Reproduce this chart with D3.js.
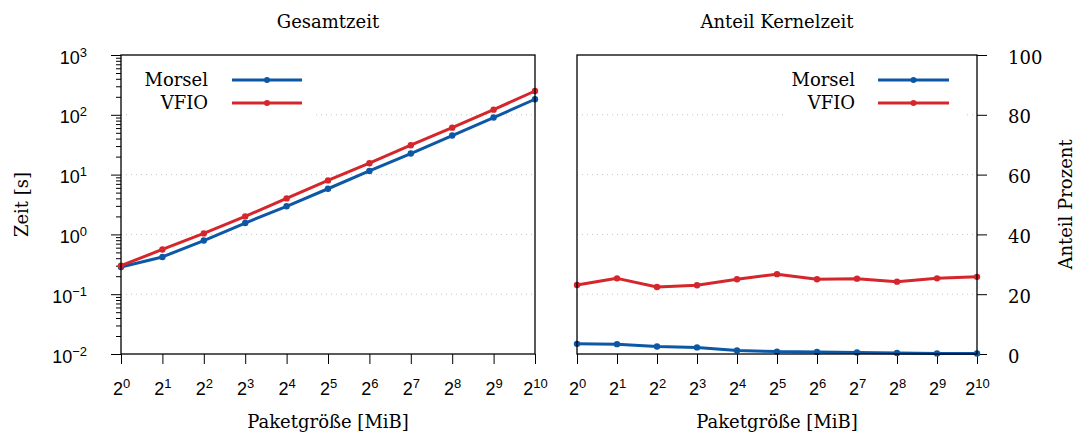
<!DOCTYPE html>
<html>
<head>
<meta charset="utf-8">
<script src="https://cdn.jsdelivr.net/npm/d3@7"></script>
<style>
  body { margin: 0; background: #fff; }
  svg { font-family: 'DejaVu Serif', serif; }
</style>
</head>
<body>
<div id="app"></div>
<script>
'use strict'

// exponents of the package size (2^n MiB)
const exponents = [0, 1, 2, 3, 4, 5, 6, 7, 8, 9, 10]
const seriesNames = ['Morsel', 'VFIO']

// total time in seconds
const morselTime = [0.285, 0.42, 0.79, 1.55, 2.95, 5.8, 11.5, 22.5, 45, 90, 182]
const vfioTime = [0.30, 0.56, 1.04, 2.0, 4.0, 8.0, 15.5, 31, 61, 122, 250]

// kernel share in percent
const morselKernel = [3.4, 3.3, 2.5, 2.2, 1.2, 0.8, 0.7, 0.5, 0.35, 0.2, 0.15]
const vfioKernel = [23.1, 25.3, 22.4, 23.0, 25.0, 26.7, 25.0, 25.2, 24.2, 25.3, 25.8]

const logTicks = [-2, -1, 0, 1, 2, 3]
const pctTicks = [0, 20, 40, 60, 80, 100]

const colors = { Morsel: '#0c58a6', VFIO: '#d5262b' }

const setWidth = 1075
const setHeight = 434
const fontSize = 18
const tickFont = 18
const supFont = 13

const panelLeft = { x0: 121, x1: 535, y0: 55, y1: 354 }
const panelRight = { x0: 577, x1: 977, y0: 55, y1: 354 }

const svg = d3.select('#app')
  .append('svg')
  .attr('width', setWidth)
  .attr('height', setHeight)

const scaleXLeft = d3.scaleLinear()
  .domain([0, 10])
  .range([panelLeft.x0, panelLeft.x1])

const scaleXRight = d3.scaleLinear()
  .domain([0, 10])
  .range([panelRight.x0, panelRight.x1])

const scaleYLog = d3.scaleLog()
  .domain([1e-2, 1e3])
  .range([panelLeft.y1, panelLeft.y0])

const scaleYPct = d3.scaleLinear()
  .domain([0, 100])
  .range([panelRight.y1, panelRight.y0])

// base with superscript, e.g. 2^5 or 10^-1
const powerLabel = (sel, base, exp) => {
  sel.append('tspan').text(base)
  sel.append('tspan')
    .attr('dy', -7)
    .attr('font-size', supFont)
    .text(exp < 0 ? '\u2212' + Math.abs(exp) : exp)
}

const drawGrid = (y, ticks, panel) => {
  svg.append('g')
    .selectAll('line')
    .data(ticks)
    .enter()
    .append('line')
    .attr('x1', panel.x0)
    .attr('x2', panel.x1)
    .attr('y1', d => y(d))
    .attr('y2', d => y(d))
    .attr('stroke', '#c4c4c4')
    .attr('stroke-width', 1)
    .attr('stroke-dasharray', '1,4')
}

const drawXAxis = (x, panel) => {
  const axis = svg.append('g')
    .attr('transform', `translate(0,${panel.y1})`)
    .call(d3.axisBottom(x).tickValues(exponents).tickSize(10).tickFormat(''))
  axis.select('.domain').remove()
  axis.selectAll('.tick line').attr('stroke', '#000')

  axis.selectAll('.tick')
    .append('text')
    .attr('fill', '#000')
    .attr('font-size', tickFont)
    .attr('text-anchor', 'middle')
    .attr('y', 41)
    .each(function (d) { powerLabel(d3.select(this), '2', d) })

  svg.append('text')
    .attr('x', (panel.x0 + panel.x1) / 2)
    .attr('y', 428)
    .attr('text-anchor', 'middle')
    .attr('font-size', fontSize)
    .text('Paketgröße [MiB]')
}

const drawFrame = panel => {
  svg.append('rect')
    .attr('x', panel.x0)
    .attr('y', panel.y0)
    .attr('width', panel.x1 - panel.x0)
    .attr('height', panel.y1 - panel.y0)
    .attr('fill', 'none')
    .attr('stroke', '#000')
    .attr('stroke-width', 1.3)
}

const drawLegend = (box, textX, lineX0, lineX1) => {
  svg.append('rect')
    .attr('x', box[0])
    .attr('y', box[1])
    .attr('width', box[2])
    .attr('height', box[3])
    .attr('fill', '#fff')

  const rows = svg.append('g')
    .selectAll('g')
    .data(seriesNames)
    .enter()
    .append('g')
    .attr('transform', (d, i) => `translate(0,${80 + i * 23})`)

  rows.append('text')
    .attr('x', textX)
    .attr('y', 6)
    .attr('text-anchor', 'end')
    .attr('font-size', fontSize)
    .text(d => d)

  rows.append('line')
    .attr('x1', lineX0)
    .attr('x2', lineX1)
    .attr('stroke', d => colors[d])
    .attr('stroke-width', 3)

  rows.append('circle')
    .attr('cx', (lineX0 + lineX1) / 2)
    .attr('r', 3)
    .attr('fill', d => colors[d])
}

const drawSeries = (x, y, values, name) => {
  const pts = exponents.map((e, i) => [e, values[i]])
  svg.append('path')
    .datum(pts)
    .attr('fill', 'none')
    .attr('stroke', colors[name])
    .attr('stroke-width', 3)
    .attr('stroke-linejoin', 'round')
    .attr('d', d3.line().x(d => x(d[0])).y(d => y(d[1])))

  svg.append('g')
    .selectAll('circle')
    .data(pts)
    .enter()
    .append('circle')
    .attr('cx', d => x(d[0]))
    .attr('cy', d => y(d[1]))
    .attr('r', 3.2)
    .attr('fill', colors[name])
}

// ---- left panel: Gesamtzeit ----
drawGrid(scaleYLog, logTicks.slice(1, 5).map(e => Math.pow(10, e)), panelLeft)
drawLegend([130, 62, 186, 62], 208, 232, 302)

// minor ticks of the log axis
const minorTicks = []
logTicks.slice(0, -1).forEach(e => {
  for (let m = 2; m <= 9; m++) minorTicks.push(m * Math.pow(10, e))
})

const yAxisLeft = svg.append('g')
  .attr('transform', `translate(${panelLeft.x0},0)`)
  .call(d3.axisLeft(scaleYLog).tickValues(minorTicks).tickSize(5).tickFormat(''))
yAxisLeft.select('.domain').remove()

const yMajorLeft = svg.append('g')
  .attr('transform', `translate(${panelLeft.x0},0)`)
  .call(d3.axisLeft(scaleYLog).tickValues(logTicks.map(e => Math.pow(10, e))).tickSize(10).tickFormat(''))
yMajorLeft.select('.domain').remove()

yMajorLeft.selectAll('.tick')
  .append('text')
  .attr('fill', '#000')
  .attr('font-size', tickFont)
  .attr('text-anchor', 'end')
  .attr('x', -34)
  .attr('y', 8)
  .each(function (d) { powerLabel(d3.select(this), '10', Math.round(Math.log10(d))) })

svg.append('text')
  .attr('transform', `translate(28,${(panelLeft.y0 + panelLeft.y1) / 2}) rotate(-90)`)
  .attr('text-anchor', 'middle')
  .attr('font-size', fontSize)
  .text('Zeit [s]')

svg.append('text')
  .attr('x', (panelLeft.x0 + panelLeft.x1) / 2)
  .attr('y', 28)
  .attr('text-anchor', 'middle')
  .attr('font-size', fontSize)
  .text('Gesamtzeit')

drawXAxis(scaleXLeft, panelLeft)
drawSeries(scaleXLeft, scaleYLog, morselTime, 'Morsel')
drawSeries(scaleXLeft, scaleYLog, vfioTime, 'VFIO')
drawFrame(panelLeft)

// ---- right panel: Anteil Kernelzeit ----
drawGrid(scaleYPct, pctTicks.slice(1, 5), panelRight)
drawLegend([783, 62, 180, 62], 855, 878, 949)

const yAxisRight = svg.append('g')
  .attr('transform', `translate(${panelRight.x1},0)`)
  .call(d3.axisRight(scaleYPct).tickValues(pctTicks).tickSize(10).tickPadding(21))
yAxisRight.select('.domain').remove()
yAxisRight.selectAll('.tick text')
  .attr('font-size', tickFont)
  .attr('font-family', 'DejaVu Serif')
  .attr('fill', '#000')
  .attr('dy', null)
  .attr('y', 8)

svg.append('text')
  .attr('transform', `translate(1072,${(panelRight.y0 + panelRight.y1) / 2}) rotate(-90)`)
  .attr('text-anchor', 'middle')
  .attr('font-size', fontSize)
  .text('Anteil Prozent')

svg.append('text')
  .attr('x', (panelRight.x0 + panelRight.x1) / 2)
  .attr('y', 28)
  .attr('text-anchor', 'middle')
  .attr('font-size', fontSize)
  .text('Anteil Kernelzeit')

drawXAxis(scaleXRight, panelRight)
drawSeries(scaleXRight, scaleYPct, morselKernel, 'Morsel')
drawSeries(scaleXRight, scaleYPct, vfioKernel, 'VFIO')
drawFrame(panelRight)
</script>
</body>
</html>
